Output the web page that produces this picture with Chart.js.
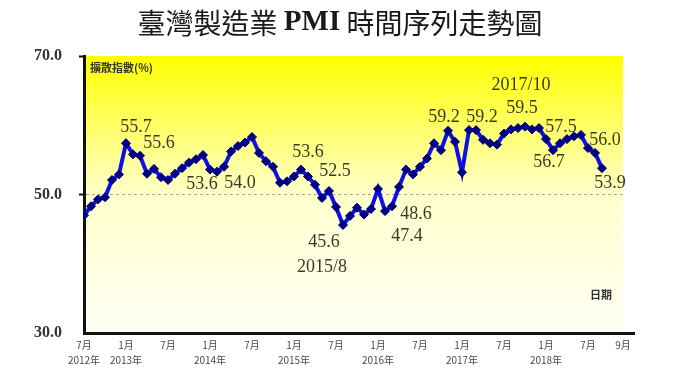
<!DOCTYPE html>
<html>
<head>
<meta charset="utf-8">
<script src="https://cdn.jsdelivr.net/npm/chart.js@4"></script>
<style>
html,body{margin:0;padding:0;background:#fff;}
#wrap{width:680px;height:383px;}
</style>
</head>
<body>
<div id="wrap"><canvas id="c" width="680" height="383"></canvas></div>
<script>
// ---- data ----
const startYear = 2012, startMonth = 7;
const categories = [];
for (let k = 0; k < 75; k++) {
  const m = (startMonth - 1 + k) % 12 + 1;
  const y = startYear + Math.floor((startMonth - 1 + k) / 12);
  categories.push(y + '/' + m);
}
const pmiValues = [
  47.0, 48.3, 49.3, 49.6, 52.1, 52.9, 57.4, 55.8, 55.6, 53.0,
  53.7, 52.5, 52.1, 53.0, 53.8, 54.6, 55.1, 55.7, 53.6, 53.3,
  54.0, 56.2, 57.0, 57.5, 58.3, 56.0, 54.8, 54.0, 51.7, 51.9,
  52.6, 53.6, 52.6, 51.4, 49.5, 50.5, 48.2, 45.6, 46.9, 48.1,
  47.1, 47.9, 50.8, 47.6, 48.3, 51.1, 53.6, 52.9, 54.0, 55.2,
  57.4, 56.4, 59.2, 57.6, 53.2, 59.3, 59.3, 57.9, 57.4, 57.2,
  58.8, 59.4, 59.6, 59.8, 59.4, 59.6, 58.0, 56.4, 57.4, 58.0,
  58.4, 58.6, 56.7, 56.0, 53.8
];
const xTickIndex = [0, 6, 12, 18, 24, 30, 36, 42, 48, 54, 60, 66, 72, 77];
const xTickMonth = ['7月','1月','7月','1月','7月','1月','7月','1月','7月','1月','7月','1月','7月','9月'];
const xTickYear  = ['2012年','2013年','','2014年','','2015年','','2016年','','2017年','','2018年','',''];
const yTicks = [30, 50, 70];
const titleParts = ['臺灣製造業 ', 'PMI', ' 時間序列走勢圖'];
const yAxisTitle = '擴散指數(%)';
const xAxisTitle = '日期';
// annotation texts attached to data indices
const noteIndex = [6, 8, 18, 20, 31, 32, 37, 37, 43, 44, 52, 55, 63, 63, 68, 67, 73, 74];
const noteText  = ['55.7','55.6','53.6','54.0','53.6','52.5','45.6','2015/8','47.4','48.6','59.2','59.2','2017/10','59.5','57.5','56.7','56.0','53.9'];
// ---- presentation ----
const noteOffset = [[10,-16],[19,-12],[-8,15],[16,16],[7,-17],[27,-5],[-19,17],[-21,42],[22,25],[24,8],[-4,-14],[13,-13],[-4,-41],[-3,-18],[1,-16],[-4,12],[10,-13],[8,15]];

const points = pmiValues.map((v, i) => ({x: i, y: v}));

const bgPlugin = {
  id: 'bg',
  beforeDraw(chart) {
    const {ctx, chartArea: a} = chart;
    const g = ctx.createLinearGradient(0, a.top, 0, a.bottom);
    g.addColorStop(0, '#ffff00');
    g.addColorStop(0.25, '#ffff66');
    g.addColorStop(0.5, '#ffffcc');
    g.addColorStop(1, '#fffff6');
    ctx.save();
    ctx.fillStyle = g;
    ctx.fillRect(a.left, a.top, a.right - a.left, a.bottom - a.top);
    ctx.restore();
  }
};

const notePlugin = {
  id: 'notes',
  afterDraw(chart) {
    const {ctx, chartArea: a} = chart;
    const xs = chart.scales.x, ys = chart.scales.y;
    ctx.save();
    // extend the bottom axis line a bit past the plot, as in the source
    ctx.strokeStyle = '#111';
    ctx.lineWidth = 3;
    ctx.beginPath();
    ctx.moveTo(a.right - 1, a.bottom + 0.5);
    ctx.lineTo(a.right + 12, a.bottom + 0.5);
    ctx.stroke();

    ctx.textAlign = 'center';
    ctx.textBaseline = 'middle';
    ctx.fillStyle = '#3a3a22';
    ctx.font = '18px "Liberation Serif", "DejaVu Serif", serif';
    noteIndex.forEach((idx, k) => {
      const px = xs.getPixelForValue(idx);
      const py = ys.getPixelForValue(pmiValues[idx]);
      ctx.fillText(noteText[k], px + noteOffset[k][0], py + noteOffset[k][1]);
    });
    ctx.font = 'bold 11px "Noto Sans CJK TC", sans-serif';
    ctx.fillStyle = '#333';
    ctx.textAlign = 'left';
    ctx.fillText(yAxisTitle, a.left + 6, a.top + 12);
    ctx.fillText(xAxisTitle, a.right - 33, a.bottom - 38);

    // title
    const fonts = ['28px "Noto Sans CJK TC", sans-serif', 'bold 29px "Liberation Serif", serif', '28px "Noto Sans CJK TC", sans-serif'];
    let total = 0;
    const widths = titleParts.map((t, k) => { ctx.font = fonts[k]; const w = ctx.measureText(t).width; total += w; return w; });
    let x = 340 - total / 2;
    ctx.fillStyle = '#1a1a1a';
    ctx.textBaseline = 'middle';
    titleParts.forEach((t, k) => { ctx.font = fonts[k]; ctx.fillText(t, x, 23); x += widths[k]; });
    ctx.restore();
  }
};

new Chart(document.getElementById('c'), {
  type: 'line',
  data: {
    labels: categories,
    datasets: [{
      data: points,
      borderColor: '#1010e6',
      borderWidth: 4,
      pointStyle: 'rectRot',
      pointRadius: 4.5,
      pointBackgroundColor: '#000080',
      pointBorderColor: '#000080',
      pointBorderWidth: 1,
      tension: 0,
      fill: false
    }]
  },
  options: {
    responsive: false,
    animation: false,
    layout: {padding: {left: 0, right: 57, top: 56, bottom: 0}},
    plugins: {
      legend: {display: false},
      tooltip: {enabled: false},
      title: {display: false}
    },
    scales: {
      x: {
        type: 'linear',
        min: 0,
        max: 77,
        afterBuildTicks(scale) { scale.ticks = xTickIndex.map(v => ({value: v})); },
        afterFit(scale) { scale.height = 50; },
        grid: {display: false, drawTicks: false},
        border: {display: true, color: '#111', width: 3},
        ticks: {
          autoSkip: false,
          maxRotation: 0,
          padding: 4,
          color: '#4a4a4a',
          font: {family: '"Noto Sans CJK TC", sans-serif', size: 10, lineHeight: 1.55},
          callback(v) {
            const k = xTickIndex.indexOf(v);
            if (k < 0) return '';
            return xTickYear[k] ? [xTickMonth[k], xTickYear[k]] : xTickMonth[k];
          }
        }
      },
      y: {
        min: 30,
        max: 70,
        afterBuildTicks(scale) { scale.ticks = yTicks.map(v => ({value: v})); },
        afterFit(scale) { scale.width = 84; },
        grid: {
          drawTicks: true,
          tickLength: 5,
          lineWidth: 1,
          color: (c) => (c.tick && c.tick.value === 50) ? '#a8a890' : 'rgba(0,0,0,0)',
          tickColor: (c) => (c.tick && c.tick.value === 30) ? 'rgba(0,0,0,0)' : '#111',
          tickWidth: 2
        },
        border: {display: true, color: '#111', width: 3, dash: [3, 3]},
        ticks: {
          padding: 17,
          color: '#333',
          font: {family: '"Liberation Serif", serif', size: 16, weight: 'bold'},
          callback: (v) => Number(v).toFixed(1)
        }
      }
    }
  },
  plugins: [bgPlugin, notePlugin]
});
</script>
</body>
</html>
